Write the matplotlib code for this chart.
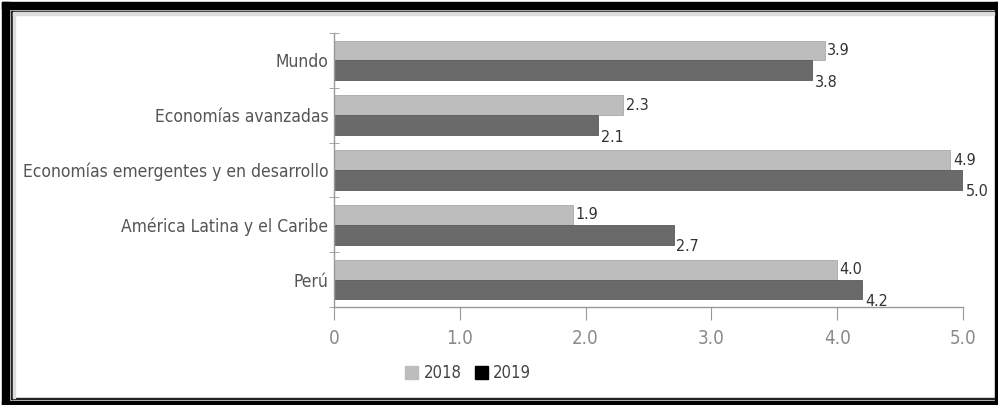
import numpy as np
import matplotlib.pyplot as plt
from matplotlib.patches import Rectangle

# data
categorias = ['Mundo', 'Economías avanzadas', 'Economías emergentes y en desarrollo',
              'América Latina y el Caribe', 'Perú']
v2018 = [3.9, 2.3, 4.9, 1.9, 4.0]
v2019 = [3.8, 2.1, 5.0, 2.7, 4.2]
xticks = [0, 1, 2, 3, 4, 5]
xlabels = ['0', '1.0', '2.0', '3.0', '4.0', '5.0']

c18 = '#bdbdbd'
c19 = '#6a6a6a'
fam = 'DejaVu Sans'
st = 'condensed'

W, H = 998, 405
fig = plt.figure(figsize=(W / 100, H / 100), dpi=100)
ax = fig.add_axes([334 / W, 1 - 307 / H, (963 - 334) / W, (307 - 33) / H])

y = np.arange(len(categorias))
h = 0.36
ax.barh(y - h / 2, v2018, height=h, color=c18, edgecolor='#a8a8a8', linewidth=0.6)
ax.barh(y + h / 2, v2019, height=h, color=c19, edgecolor='#5a5a5a', linewidth=0.6)

for i in range(len(categorias)):
    ax.text(v2018[i] + 0.02, y[i] - h / 2, f'{v2018[i]:.1f}', va='center', ha='left',
            fontsize=11.5, color='#333333', family=fam, stretch=st)
    ax.text(v2019[i] + 0.02, y[i] + h / 2 + 0.22, f'{v2019[i]:.1f}', va='center', ha='left',
            fontsize=11.5, color='#333333', family=fam, stretch=st)

ax.set_xlim(0, 5)
ax.set_ylim(len(categorias) - 0.5, -0.5)
ax.set_yticks(y)
ax.set_yticklabels(categorias, family=fam, stretch=st, fontsize=12.5, color='#555555')
ax.set_yticks(np.arange(-0.5, len(categorias)), minor=True)
ax.tick_params(axis='y', which='major', length=0, pad=4)
ax.tick_params(axis='y', which='minor', length=7, direction='inout', color='#999999')
ax.set_xticks(xticks)
ax.set_xticklabels(xlabels, family=fam, stretch=st, fontsize=13.5, color='#8a8a8a')
ax.tick_params(axis='x', length=9, color='#999999', pad=7)
for s in ['top', 'right']:
    ax.spines[s].set_visible(False)
for s in ['left', 'bottom']:
    ax.spines[s].set_color('#999999')
    ax.spines[s].set_linewidth(1)

# legend
hs = [Rectangle((0, 0), 1, 1, color=c18), Rectangle((0, 0), 1, 1, color='black')]
fig.legend(hs, ['2018', '2019'], loc='center', bbox_to_anchor=(468 / W, 1 - 373 / H),
           ncol=2, frameon=False, handlelength=0.8, handleheight=0.8, handletextpad=0.3,
           columnspacing=0.8, prop={'family': fam, 'stretch': st, 'size': 12},
           labelcolor='#444444')

# marco (en pixeles)
def px_rect(x0, y0, x1, y1, c):
    fig.patches.append(Rectangle((x0 / W, 1 - y1 / H), (x1 - x0) / W, (y1 - y0) / H,
                                 transform=fig.transFigure, color=c, zorder=10))

px_rect(2, 2, 998, 9, 'black')      # arriba
px_rect(2, 2, 9, 405, 'black')      # izquierda
px_rect(2, 401, 998, 405, 'black')  # abajo
px_rect(995, 2, 998, 405, 'black')  # derecha
px_rect(11, 11, 994, 12.5, '#222222')
px_rect(11, 11, 12.5, 399, '#222222')
px_rect(11, 397.5, 994, 399, '#222222')
px_rect(12.5, 12.5, 994, 15, '#dddddd')
px_rect(12.5, 12.5, 15, 397.5, '#dddddd')

fig.savefig('out.png', dpi=100)
